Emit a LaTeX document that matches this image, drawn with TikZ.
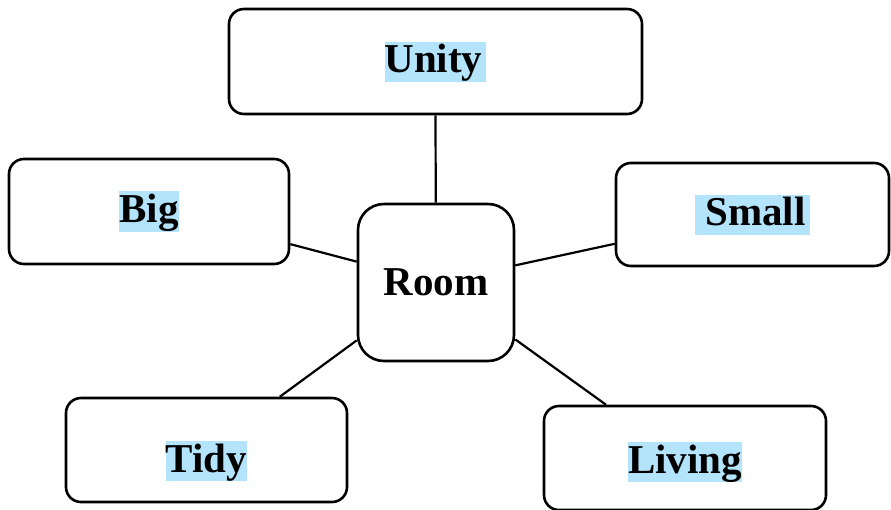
\documentclass[tikz,border=0pt]{standalone}
\usepackage{fontspec}
\setmainfont{Liberation Serif}
\usepackage{tikz}

\definecolor{hlblue}{RGB}{180,228,252}
\newcommand{\hlword}[1]{{\setlength{\fboxsep}{0pt}\colorbox{hlblue}{\rule[-9pt]{0pt}{40pt}#1}}}
\newcommand{\lowered}[2]{\raisebox{-#1}[31pt][9pt]{#2}}

\begin{document}
\begin{tikzpicture}[x=1pt, y=-1pt,
  word/.style = {draw, line width=2.6pt, rounded corners=15pt, inner sep=0pt,
                 font=\fontsize{41}{41}\selectfont\bfseries},
  hub/.style = {word, rounded corners=26pt, minimum width=156pt, minimum height=157pt},
  link/.style = {line width=2.2pt}]
\useasboundingbox (0,0) rectangle (891,509);
\path (435.5,61.5) node [word, minimum width=413pt, minimum height=105pt] (unity) {\hlword{Unity\hspace{4pt}}\hspace{10pt}};
\path (149,211.5) node [word, minimum width=280pt, minimum height=105pt] (big) {\hlword{Big}};
\path (752.5,214.5) node [word, minimum width=273pt, minimum height=103pt] (small) {\hlword{\hspace{10pt}Small\hspace{4pt}}};
\path (436,282.5) node [hub] (room) {Room};
\path (206.5,450) node [word, minimum width=281pt, minimum height=104pt] (tidy) {\lowered{11pt}{\hlword{Tidy}}};
\path (685,458) node [word, minimum width=282pt, minimum height=104pt] (living) {\lowered{4pt}{\hlword{Living}}};
\path [draw, link] (room) -- (unity.south);
\path [draw, link] (room) -- (big.-13);
\path [draw, link] (room) -- (small.192);
\path [draw, link] (room) -- (tidy.36);
\path [draw, link] (room) -- (living.146);
\end{tikzpicture}
\end{document}
